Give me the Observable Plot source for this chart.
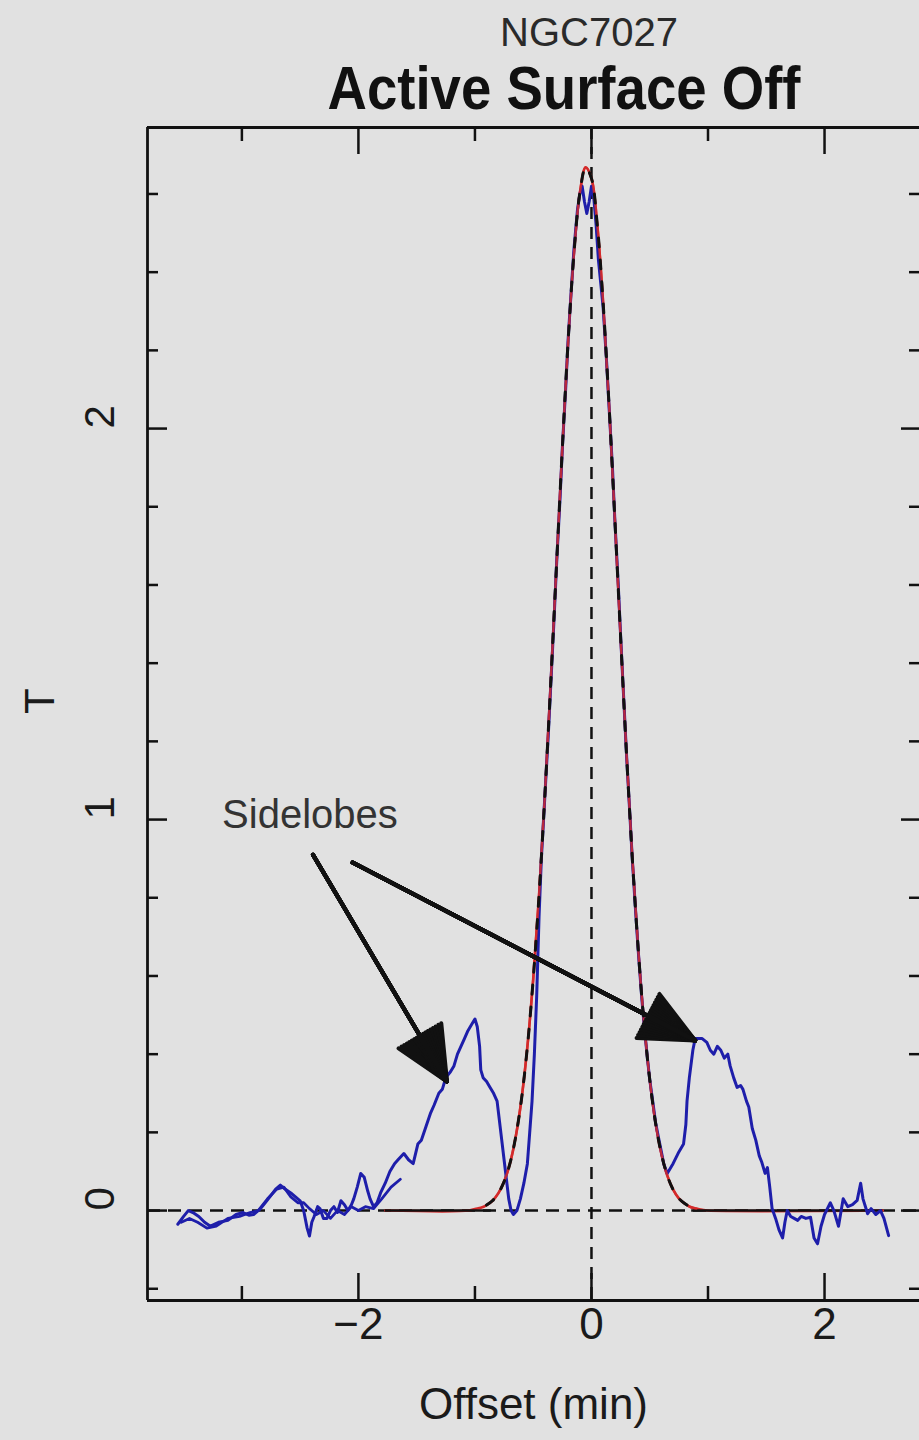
<!DOCTYPE html>
<html><head><meta charset="utf-8">
<script src="https://cdn.jsdelivr.net/npm/d3@7"></script>
<script src="https://cdn.jsdelivr.net/npm/@observablehq/plot@0.6"></script>
<style>
html,body{margin:0;padding:0;background:#e1e1e1;}
body{width:919px;height:1440px;overflow:hidden;font-family:"Liberation Sans",Arial,sans-serif;}
#head{position:relative;height:110px;}
#sub{position:absolute;left:589px;top:9px;transform:translateX(-50%);font-size:40px;line-height:1.15;color:#2a2a2a;white-space:nowrap;}
#title{position:absolute;left:564px;top:52px;transform:translateX(-50%) scaleX(0.88);font-size:62px;font-weight:bold;line-height:1.15;color:#111;white-space:nowrap;}
#chart svg{display:block;}
</style></head>
<body>
<div id="head"><div id="sub">NGC7027</div><div id="title">Active Surface Off</div></div>
<div id="chart"></div>
<script>
// ---- data ----
const xDomain = [-3.81, 2.815];
const yDomain = [-0.23, 2.77];
const xMajor = [-2, 0, 2];
const xMinor = [-3, -1, 1];
const yMajor = [0, 1, 2];
const yMinor = [-0.2, 0.2, 0.4, 0.6, 0.8, 1.2, 1.4, 1.6, 1.8, 2.2, 2.4, 2.6];
const xTickLabels = ["\u22122", "0", "2"];
const yTickLabels = ["0", "1", "2"];
const xTitle = "Offset (min)";
const yTitle = "T";

// measured scan (blue)
const blueMain = [
[-3.55,-0.035],[-3.50,-0.015],[-3.46,0.0],[-3.42,-0.005],[-3.37,-0.015],[-3.32,-0.03],[-3.27,-0.04],[-3.20,-0.03],
[-3.12,-0.025],[-3.05,-0.01],[-2.99,-0.005],[-2.94,-0.012],[-2.90,-0.01],[-2.84,0.005],[-2.80,0.02],[-2.76,0.035],
[-2.71,0.055],[-2.67,0.065],[-2.63,0.055],[-2.58,0.045],[-2.54,0.035],[-2.50,0.025],[-2.47,0.0],[-2.44,-0.045],
[-2.42,-0.065],[-2.40,-0.03],[-2.38,-0.015],[-2.35,0.01],[-2.33,0.005],[-2.30,-0.02],[-2.27,-0.02],[-2.24,0.0],
[-2.21,0.01],[-2.18,-0.005],[-2.15,0.025],[-2.12,0.015],[-2.09,0.0],[-2.06,0.015],[-2.04,0.03],[-2.01,0.06],
[-1.98,0.095],[-1.95,0.085],[-1.92,0.05],[-1.90,0.03],[-1.87,0.01],[-1.84,0.02],[-1.81,0.045],[-1.77,0.07],
[-1.73,0.10],[-1.69,0.12],[-1.66,0.13],[-1.61,0.146],[-1.57,0.13],[-1.53,0.12],[-1.49,0.17],[-1.46,0.18],
[-1.42,0.215],[-1.38,0.25],[-1.35,0.27],[-1.31,0.30],[-1.28,0.31],[-1.25,0.34],[-1.21,0.355],[-1.18,0.37],
[-1.15,0.40],[-1.12,0.42],[-1.09,0.44],[-1.06,0.46],[-1.03,0.475],[-1.00,0.49],[-0.98,0.47],[-0.96,0.42],
[-0.95,0.36],[-0.93,0.34],[-0.90,0.33],[-0.87,0.315],[-0.84,0.30],[-0.81,0.28],[-0.79,0.23],[-0.77,0.18],
[-0.75,0.13],[-0.73,0.08],[-0.71,0.03],[-0.69,0.0],[-0.67,-0.01],[-0.64,0.0],[-0.61,0.03],[-0.58,0.07],
[-0.55,0.12],[-0.53,0.20],[-0.51,0.28],[-0.49,0.40],[-0.47,0.55],[-0.45,0.75],[-0.43,0.90],[-0.40,1.06],
[-0.37,1.22],[-0.35,1.34],[-0.32,1.52],[-0.30,1.65],[-0.27,1.82],[-0.25,1.95],[-0.22,2.11],[-0.20,2.23],
[-0.17,2.37],[-0.15,2.46],[-0.12,2.56],[-0.10,2.60],[-0.08,2.62],[-0.06,2.58],[-0.04,2.55],[-0.02,2.58],
[0.00,2.62],[0.02,2.59],[0.04,2.52],[0.06,2.43],[0.08,2.37],[0.10,2.31],[0.13,2.17],[0.15,2.06],
[0.18,1.90],[0.20,1.77],[0.23,1.60],[0.25,1.47],[0.28,1.29],[0.30,1.17],[0.33,1.01],[0.35,0.90],
[0.38,0.76],[0.40,0.67],[0.43,0.55],[0.45,0.48],[0.48,0.39],[0.50,0.335],[0.53,0.27],[0.55,0.225],
[0.58,0.18],[0.62,0.12],[0.65,0.095],[0.70,0.12],[0.75,0.15],[0.79,0.17],[0.81,0.22],[0.82,0.28],
[0.84,0.34],[0.87,0.41],[0.89,0.44],[0.92,0.44],[0.95,0.44],[0.99,0.43],[1.02,0.41],[1.05,0.40],
[1.08,0.42],[1.11,0.41],[1.14,0.39],[1.17,0.40],[1.19,0.37],[1.22,0.34],[1.25,0.315],[1.28,0.32],
[1.30,0.31],[1.33,0.28],[1.35,0.265],[1.38,0.21],[1.41,0.18],[1.44,0.14],[1.46,0.125],[1.49,0.095],
[1.51,0.11],[1.53,0.06],[1.55,0.005],[1.58,-0.02],[1.61,-0.05],[1.64,-0.07],[1.66,-0.03],[1.68,0.0],
[1.71,-0.015],[1.74,-0.02],[1.77,-0.025],[1.80,-0.015],[1.84,-0.02],[1.88,-0.017],[1.91,-0.07],[1.94,-0.085],
[1.97,-0.04],[2.00,-0.01],[2.05,0.02],[2.08,0.0],[2.12,-0.04],[2.16,0.03],[2.20,0.01],[2.24,0.015],
[2.28,0.026],[2.31,0.07],[2.33,0.03],[2.37,-0.008],[2.40,0.005],[2.44,-0.01],[2.48,0.0],[2.51,-0.02],[2.55,-0.064]
];
// second (return) trace in the left baseline
const blueReturn = [
[-3.52,-0.03],[-3.45,-0.02],[-3.38,-0.03],[-3.30,-0.045],[-3.22,-0.04],[-3.12,-0.02],[-3.02,-0.015],[-2.93,-0.005],
[-2.86,0.0],[-2.78,0.03],[-2.70,0.055],[-2.64,0.06],[-2.58,0.035],[-2.52,0.02],[-2.47,0.02],[-2.42,0.005],
[-2.36,-0.01],[-2.30,0.0],[-2.24,-0.02],[-2.18,0.0],[-2.12,-0.01],[-2.06,0.01],[-2.00,0.0],[-1.94,0.01],
[-1.87,0.005],[-1.80,0.03],[-1.72,0.06],[-1.64,0.08]
];
// fitted beam (red, with black dashed overlay)
const fitX = [-1.77,-1.05,-1.0,-0.95,-0.9,-0.85,-0.8,-0.75,-0.7,-0.65,-0.6,-0.55,-0.5,-0.45,-0.4,-0.35,-0.3,-0.25,-0.2,-0.15,-0.1,-0.05,0.0,0.05,0.1,0.15,0.2,0.25,0.3,0.35,0.4,0.45,0.5,0.55,0.6,0.65,0.7,0.75,0.8,0.85,0.9,0.95,1.0,2.5];
const fitY = [0,0,0.004,0.007,0.014,0.025,0.044,0.074,0.120,0.189,0.286,0.419,0.592,0.806,1.061,1.347,1.650,1.950,2.225,2.449,2.602,2.668,2.640,2.520,2.322,2.065,1.772,1.467,1.172,0.904,0.673,0.483,0.335,0.224,0.145,0.090,0.054,0.031,0.018,0.009,0.005,0.002,0,0];
// flat wings of the fit drawn solid black on the baseline
const fitFlatX1 = [-1.77, 0.86];
const fitFlatX2 = [-0.86, 2.5];

// annotation
const noteLabel = ["Sidelobes"];
const noteX = [-3.17];
const noteY = [1.01];
const arrowX1 = [-2.39, -2.05];
const arrowY1 = [0.91, 0.89];
const arrowX2 = [-1.24, 0.89];
const arrowY2 = [0.33, 0.435];

// ---- build ----
const W = 919, H = 1330, mT = 17, mB = 140, mL = 147, mR = 0;
const innerW = W - mL - mR, innerH = H - mT - mB;

const blueA = blueMain.map(([x, y]) => ({x, y}));
const blueB = blueReturn.map(([x, y]) => ({x, y}));
const fit = fitX.map((x, i) => ({x, y: fitY[i]}));
const fitPeak = fit.filter(d => d.x >= -0.9 && d.x <= 0.9);
const flats = fitFlatX1.map((x1, i) => ({x1, x2: fitFlatX2[i]}));
const arrows = arrowX1.map((x1, i) => ({x1, y1: arrowY1[i], x2: arrowX2[i], y2: arrowY2[i]}));
const notes = noteLabel.map((t, i) => ({t, x: noteX[i], y: noteY[i]}));

const ink = "#111";
const blueInk = "#1e1eaa";
const redInk = "#d42a2a";
// filled arrowheads: fan of chevrons; inner wings shortened so the base is straight
const maxHalf = 25;
const headAngles = [50, 44, 38, 32, 26, 20, 14, 8, 2];
const headMarks = headAngles.map(a => Plot.arrow(arrows, {
  x1: "x1", y1: "y1", x2: "x2", y2: "y2", stroke: ink, strokeWidth: 4,
  headAngle: a,
  headLength: 22 * Math.cos(maxHalf * Math.PI / 180) / Math.cos(a / 2 * Math.PI / 180)
}));

const marks = [
  // dashed zero lines
  Plot.ruleY([0], {stroke: ink, strokeWidth: 2.5, strokeDasharray: "13,8"}),
  Plot.ruleX([0], {stroke: ink, strokeWidth: 2.5, strokeDasharray: "12,8"}),
  // fit (red) full range, then its flat wings in solid black
  Plot.line(fit, {x: "x", y: "y", stroke: redInk, strokeWidth: 2.6, curve: "catmull-rom"}),
  Plot.ruleY(flats, {x1: "x1", x2: "x2", y: () => 0, stroke: ink, strokeWidth: 2.6}),
  // measured scan
  Plot.line(blueB, {x: "x", y: "y", stroke: blueInk, strokeWidth: 2.8}),
  Plot.line(blueA, {x: "x", y: "y", stroke: blueInk, strokeWidth: 3}),
  // fit red + black dashed overlay on top of the main beam
  Plot.line(fitPeak, {x: "x", y: "y", stroke: redInk, strokeWidth: 2.4, curve: "catmull-rom", strokeOpacity: 0.85}),
  Plot.line(fitPeak, {x: "x", y: "y", stroke: ink, strokeWidth: 3, strokeDasharray: "9,13", curve: "catmull-rom"}),
  // frame (left, top, bottom)
  Plot.ruleX([xDomain[0]], {stroke: ink, strokeWidth: 2.8}),
  Plot.ruleY([yDomain[0]], {stroke: ink, strokeWidth: 2.8}),
  Plot.ruleY([yDomain[1]], {stroke: ink, strokeWidth: 2.8}),
  // x ticks bottom/top
  Plot.ruleX(xMajor, {x: d => d, stroke: ink, strokeWidth: 2.5, insetTop: innerH - 27}),
  Plot.ruleX(xMinor, {x: d => d, stroke: ink, strokeWidth: 2.5, insetTop: innerH - 14}),
  Plot.ruleX(xMajor, {x: d => d, stroke: ink, strokeWidth: 2.5, insetBottom: innerH - 27}),
  Plot.ruleX(xMinor, {x: d => d, stroke: ink, strokeWidth: 2.5, insetBottom: innerH - 14}),
  // y ticks left/right
  Plot.ruleY(yMajor, {y: d => d, stroke: ink, strokeWidth: 2.5, insetRight: innerW - 20}),
  Plot.ruleY(yMinor, {y: d => d, stroke: ink, strokeWidth: 2.5, insetRight: innerW - 11}),
  Plot.ruleY(yMajor, {y: d => d, stroke: ink, strokeWidth: 2.5, insetLeft: innerW - 18}),
  Plot.ruleY(yMinor, {y: d => d, stroke: ink, strokeWidth: 2.5, insetLeft: innerW - 10}),
  // tick labels
  Plot.text(xMajor, {x: d => d, text: (d, i) => xTickLabels[i], frameAnchor: "bottom", dy: 38, fontSize: 44, fill: "#1a1a1a"}),
  Plot.text(yMajor, {y: d => d, text: (d, i) => yTickLabels[i], frameAnchor: "left", dx: -47, rotate: -90, fontSize: 42, fill: "#1a1a1a"}),
  // axis titles
  Plot.text([xTitle], {text: d => d, frameAnchor: "bottom", dy: 118, fontSize: 44, fill: "#1a1a1a"}),
  Plot.text([yTitle], {text: d => d, frameAnchor: "left", dx: -107, rotate: -90, fontSize: 42, fill: "#1a1a1a"}),
  // annotation
  Plot.text(notes, {x: "x", y: "y", text: "t", textAnchor: "start", fontSize: 40, fill: "#333"}),
  ...headMarks
];

const chart = Plot.plot({
  width: W, height: H,
  marginTop: mT, marginBottom: mB, marginLeft: mL, marginRight: mR,
  style: {background: "transparent", fontFamily: "'Liberation Sans', Arial, sans-serif", overflow: "visible", maxWidth: "none"},
  x: {domain: xDomain, axis: null},
  y: {domain: yDomain, axis: null},
  marks
});
document.getElementById("chart").append(chart);
</script>
</body></html>
